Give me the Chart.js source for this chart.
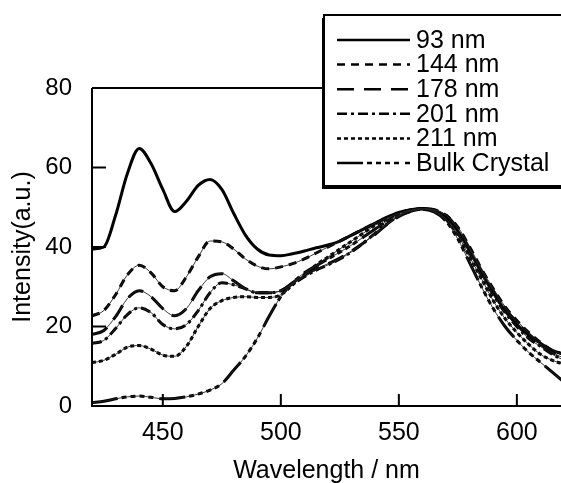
<!DOCTYPE html>
<html><head><meta charset="utf-8">
<script src="https://cdn.jsdelivr.net/npm/chart.js@4.4.1/dist/chart.umd.min.js"></script>
<style>html,body{margin:0;padding:0;background:#fff;overflow:hidden}canvas{display:block}</style>
</head><body>
<canvas id="c" width="561" height="483"></canvas>
<script>
// ---- data ----
const wavelengths = [420,425,430,435,440,445,450,455,460,465,470,475,480,485,490,495,500,505,510,515,520,525,530,535,540,545,550,555,560,565,570,575,580,585,590,595,600,605,610,615,620];
const seriesLabels = ['93 nm','144 nm','178 nm','201 nm','211 nm','Bulk Crystal'];
const int93 = [39.5,40,48,58.5,64.8,61,54.5,48.9,51.5,55.5, 57,54.5,48.5,43,39.5,38,37.8,38.3,39,39.8, 40.5,41.5,43,44.5,46,47.5,48.7,49.4,49.7,49.2, 47.5,44,39,33.5,28.5,24,20.5,17.8,15.8,14,13];
const int144 = [22.7,24,28,33,35.4,33.5,30,29,32.5,37.5, 41.5,41.3,39.5,37,35.2,34.5,35,35.8,37,38.5, 40,41.5,43,44.5,46,47.3,48.5,49.3,49.6,49.3, 48,45,40,34.5,29.5,25,21.5,18.5,16,14,13];
const int178 = [18,19,22.5,27,29,27.5,24.5,22.7,24.5,29, 32.5,33.3,31.5,29.5,28.5,28.5,29,31,33,34.5, 35.8,37.2,39,41,43.2,45.7,47.7,49,49.6,49.4, 48,44.5,39.5,34,29,24.5,21,18,15.5,13.5,12];
const int201 = [15.7,16.5,19.5,23,24.7,23.5,20.5,19.4,20.5,24, 28.5,31,30.5,29.5,28.5,28.5,29,30.7,32.5,34.2, 35.5,37,38.8,41,43.5,45.8,47.8,49,49.5,49, 47,43.5,38.5,33,28,23.5,20,17,15,13,11.5];
const int211 = [10.9,11.5,13,14.8,15.2,14.3,12.8,12.5,15,20, 24.5,26.5,27.3,27.5,27.3,27.3,28,30.5,33,35.5, 37.5,39.5,41.5,43.5,45.5,47,48.5,49.3,49.6,49, 47,43,37.5,32,26.5,22,18.5,15.5,13,11.5,10.5];
const intBulk = [0.8,1.2,1.8,2.3,2.5,2.2,1.8,1.9,2.3,3, 4,5.6,9,12.5,17,22.5,27.5,31,33.5,35.3, 37,38.7,40.5,42.5,44.5,46.5,48,49,49.5,48.8, 46.5,42,36,30,24.5,20,16.5,13.5,11,8.5,6];
const xTickValues = [450,500,550,600];
const yTickValues = [0,20,40,60,80];

// ---- styles ----
const allSeries = [int93,int144,int178,int201,int211,intBulk];
const dashes = [[], [8,6], [17,10], [10,4,3,4], [4,3], [26,4,5,4,5,4,5,4,5,6]];
const FONT = 'Liberation Sans, Arial, Helvetica, sans-serif';

const datasets = [];
allSeries.forEach((vals,i)=>{
  if (dashes[i].length) {
    datasets.push({label:'_thin'+i, data: vals.map((v,k)=>({x:wavelengths[k], y:v})),
      borderColor:'#222', borderWidth:0.9, pointRadius:0, cubicInterpolationMode:'monotone', fill:false});
  }
});
allSeries.forEach((vals,i)=>{
  datasets.push({label:seriesLabels[i], data: vals.map((v,k)=>({x:wavelengths[k], y:v})),
    borderColor:'#000', borderWidth:3, borderDash: dashes[i], pointRadius:0,
    cubicInterpolationMode:'monotone', fill:false});
});

const axesPlugin = {
  id:'axesPlugin',
  afterDatasetsDraw(chart){
    const {ctx, chartArea:a, scales:{x,y}} = chart;
    ctx.save();
    ctx.strokeStyle='#000'; ctx.lineWidth=2; ctx.setLineDash([]);
    ctx.beginPath();
    ctx.moveTo(a.left, a.top); ctx.lineTo(a.left, a.bottom); ctx.lineTo(a.right+5, a.bottom);
    ctx.moveTo(a.left, a.top); ctx.lineTo(a.right+5, a.top);
    yTickValues.forEach(v=>{ const py=y.getPixelForValue(v); if(v>0&&v<80){ctx.moveTo(a.left,py); ctx.lineTo(a.left+14,py);} });
    xTickValues.forEach(v=>{ const px=x.getPixelForValue(v); ctx.moveTo(px,a.bottom); ctx.lineTo(px,a.bottom-12); });
    ctx.stroke();
    ctx.restore();
  }
};

const legendPlugin = {
  id:'boxLegend',
  afterDraw(chart){
    const ctx = chart.ctx;
    ctx.save();
    const bx=324, by=15, bw=260, bh=171;
    ctx.fillStyle='#fff'; ctx.fillRect(bx,by,bw,bh);
    ctx.strokeStyle='#000'; ctx.lineWidth=2; ctx.setLineDash([]);
    ctx.strokeRect(bx,by,bw,bh);
    ctx.fillStyle='#000';
    ctx.fillRect(bx-2, by+3, 3, bh);
    ctx.fillRect(bx-2, by+bh-1, bw, 4);
    ctx.font = '25px ' + FONT;
    ctx.textBaseline='middle'; ctx.textAlign='left';
    const main = chart.data.datasets.filter(d=>!d.label.startsWith('_'));
    main.forEach((d,i)=>{
      const ry = 40 + i*24.6;
      ctx.beginPath(); ctx.lineWidth=2.5; ctx.setLineDash(d.borderDash||[]);
      ctx.moveTo(337, ry); ctx.lineTo(410, ry); ctx.stroke();
      ctx.setLineDash([]);
      ctx.fillText(d.label, 416, ry+1);
    });
    ctx.restore();
  }
};

new Chart(document.getElementById('c'), {
  type:'line',
  data:{datasets},
  options:{
    responsive:false, animation:false, devicePixelRatio:1,
    layout:{padding:{top:88,left:0,right:0,bottom:0}},
    plugins:{legend:{display:false}, tooltip:{enabled:false}},
    scales:{
      x:{type:'linear', min:420, max:618.7,
        afterFit(s){s.height=77;},
        afterBuildTicks(s){s.ticks = xTickValues.map(v=>({value:v}));},
        grid:{display:false, drawTicks:false}, border:{display:false},
        ticks:{color:'#000', font:{family:FONT,size:25}, padding:12, maxRotation:0},
        title:{display:true, text:'Wavelength / nm', color:'#000', font:{family:FONT,size:25}, padding:{top:0,bottom:-3}}
      },
      y:{type:'linear', min:0, max:80,
        afterFit(s){s.width=92;},
        afterBuildTicks(s){s.ticks = yTickValues.map(v=>({value:v}));},
        grid:{display:false, drawTicks:false}, border:{display:false},
        ticks:{color:'#000', font:{family:FONT,size:24}, padding:20},
        title:{display:true, text:'Intensity(a.u.)', color:'#000', font:{family:FONT,size:25}, padding:{top:8,bottom:0}}
      }
    }
  },
  plugins:[axesPlugin, legendPlugin]
});
</script>
</body></html>
